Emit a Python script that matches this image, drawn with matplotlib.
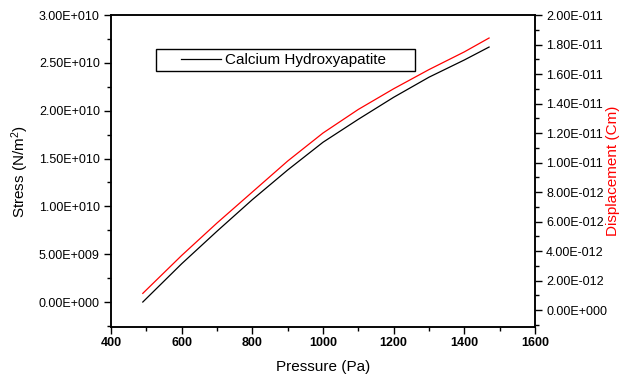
import matplotlib
matplotlib.use('Agg')
import matplotlib.pyplot as plt
from matplotlib.ticker import MultipleLocator, FuncFormatter
from matplotlib.lines import Line2D
from matplotlib.legend_handler import HandlerLine2D

plt.rcParams['font.family'] = ['Liberation Sans', 'DejaVu Sans']
plt.rcParams['mathtext.fontset'] = 'custom'
plt.rcParams['mathtext.rm'] = 'Liberation Sans'
plt.rcParams['mathtext.it'] = 'Liberation Sans:italic'

# data
pressure = [490, 600, 700, 800, 900, 1000, 1100, 1200, 1300, 1400, 1470]
stress = [0.0, 0.40e10, 0.74e10, 1.07e10, 1.38e10, 1.67e10, 1.91e10,
          2.14e10, 2.35e10, 2.53e10, 2.665e10]
displacement = [1.13e-12, 3.70e-12, 5.90e-12, 8.00e-12, 10.1e-12, 12.0e-12,
                13.6e-12, 15.0e-12, 16.3e-12, 17.5e-12, 18.44e-12]
legend_label = 'Calcium Hydroxyapatite'


def origin_fmt(v, pos):
    if abs(v) < 1e-30:
        v = 0.0
    s = f"{v:.2E}"
    mant, ex = s.split('E')
    e = int(ex)
    sign = '-' if e < 0 else '+'
    return f"{mant}E{sign}{abs(e):03d}"


fig = plt.figure(figsize=(6.29, 3.76), dpi=100)
fig.patch.set_facecolor('white')
ax = fig.add_axes([111/629, 1-327/376, 424/629, 312/376])
ax2 = ax.twinx()

ax.plot(pressure, stress, color='black', linewidth=0.9)
ax2.plot(pressure, displacement, color='red', linewidth=0.9)

ax.set_xlim(400, 1600)
ax.set_ylim(-2.61e9, 3.0e10)
ax2.set_ylim(-1.15e-12, 2.0e-11)

ax.xaxis.set_major_locator(MultipleLocator(200))
ax.xaxis.set_minor_locator(MultipleLocator(100))
ax.yaxis.set_major_locator(MultipleLocator(5e9))
ax.yaxis.set_minor_locator(MultipleLocator(2.5e9))
ax2.yaxis.set_major_locator(MultipleLocator(2e-12))
ax2.yaxis.set_minor_locator(MultipleLocator(1e-12))
ax.yaxis.set_major_formatter(FuncFormatter(origin_fmt))
ax2.yaxis.set_major_formatter(FuncFormatter(origin_fmt))
ax.yaxis.get_offset_text().set_visible(False)
ax2.yaxis.get_offset_text().set_visible(False)

for a in (ax, ax2):
    for sp in a.spines.values():
        sp.set_linewidth(1.1)
        sp.set_color('black')

ax.tick_params(axis='x', which='major', direction='out', length=5, width=1,
               labelsize=9, pad=2)
ax.tick_params(axis='x', which='minor', direction='out', length=3, width=1)
for t in ax.get_xticklabels():
    t.set_fontweight('bold')
ax.tick_params(axis='y', which='major', direction='out', length=5, width=1,
               labelsize=9, pad=3)
ax.tick_params(axis='y', which='minor', direction='out', length=3, width=1)
ax2.tick_params(axis='y', which='major', direction='out', length=5, width=1,
                labelsize=9, pad=3)
ax2.tick_params(axis='y', which='minor', direction='out', length=3, width=1)

ax.set_xlabel('Pressure (Pa)', fontsize=11)
ax.set_ylabel('Stress (N/m$^2$)', fontsize=11, va='center')
ax2.set_ylabel('Displacement (Cm)', fontsize=11, color='red', va='center',
               rotation=90)
ax.xaxis.set_label_coords(0.5, -0.105)
ax.yaxis.set_label_coords((20-111)/424, 0.5)
ax2.yaxis.set_label_coords((613-111)/424, 0.5)

handle = Line2D([], [], color='black', linewidth=0.9)
leg = ax.legend([handle], [legend_label], loc='center', mode='expand',
                bbox_to_anchor=(155.7/629, 1-72.7/376, (415-155.7)/629,
                                25.4/376),
                bbox_transform=fig.transFigure, borderaxespad=0,
                borderpad=0.25, handlelength=4.03, handletextpad=0.28,
                fontsize=11, fancybox=False, framealpha=1, edgecolor='black',
                handler_map={handle: HandlerLine2D(xpad=1.41)})
leg.get_frame().set_linewidth(1.0)
leg.remove()
ax2.add_artist(leg)

fig.savefig('out.png', dpi=100)
